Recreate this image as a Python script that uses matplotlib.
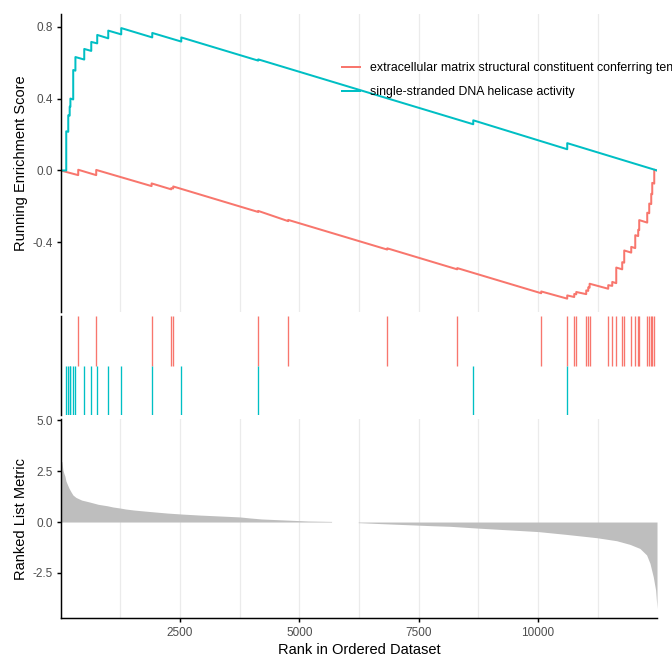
import numpy as np
import matplotlib
matplotlib.use("Agg")
import matplotlib.pyplot as plt

plt.rcParams['font.family'] = ['Liberation Sans', 'DejaVu Sans']
plt.rcParams['axes.unicode_minus'] = False

n_genes = 12495

set_names = ['extracellular matrix structural constituent conferring tensile strength',
             'single-stranded DNA helicase activity']
set_colors = ['#F8766D', '#00BFC4']

# gene set 1 (red) - hit ranks and running ES just before / after each hit
red_hits = [369, 746, 1906, 2317, 2359, 4140, 4768, 6843, 8309, 10069, 10614, 10761, 10803, 11012,
            11054, 11083, 11473, 11557, 11641, 11766, 11808, 11955, 12039, 12101, 12122, 12290,
            12332, 12374, 12395, 12437]
red_es_before = [-0.026, -0.026, -0.087, -0.105, -0.100, -0.231, -0.282, -0.440, -0.550, -0.683,
                 -0.713, -0.704, -0.689, -0.688, -0.670, -0.652, -0.658, -0.642, -0.627, -0.550,
                 -0.513, -0.457, -0.432, -0.365, -0.332, -0.290, -0.238, -0.187, -0.132, -0.073]
red_es_after = [0.004, 0.003, -0.072, -0.098, -0.089, -0.225, -0.275, -0.433, -0.543, -0.673,
                -0.695, -0.687, -0.676, -0.667, -0.650, -0.630, -0.638, -0.620, -0.540, -0.510,
                -0.445, -0.425, -0.360, -0.330, -0.276, -0.235, -0.184, -0.130, -0.069, 0.004]

# gene set 2 (cyan)
cyan_hits = [118, 160, 190, 205, 264, 310, 495, 642, 767, 998, 1270, 1920, 2528, 4140, 8645, 10614]
cyan_es_before = [0.0, 0.215, 0.305, 0.354, 0.395, 0.555, 0.617, 0.665, 0.707, 0.735, 0.757,
                  0.740, 0.717, 0.611, 0.257, 0.118]
cyan_es_after = [0.218, 0.307, 0.355, 0.400, 0.559, 0.631, 0.676, 0.715, 0.754, 0.778, 0.792,
                 0.765, 0.740, 0.618, 0.279, 0.152]

# ranked list metric
pos_ranks = [1, 27, 48, 69, 90, 111, 132, 174, 216, 258, 321, 440, 614, 789, 977, 1096, 1242,
             1362, 1536, 1760, 1997, 2242, 2556, 2933, 3310, 3757, 3965, 4211, 4700, 5188, 5677]
pos_metric = [3.0, 2.97, 2.56, 2.39, 2.26, 2.02, 1.90, 1.67, 1.49, 1.33, 1.21, 1.08, 0.98, 0.87,
              0.80, 0.74, 0.69, 0.64, 0.59, 0.54, 0.49, 0.44, 0.39, 0.34, 0.30, 0.25, 0.20, 0.15,
              0.10, 0.05, 0.03]
neg_ranks = [6235, 6725, 7249, 7773, 8156, 8750, 9344, 10006, 10601, 11230, 11649, 11928, 12137,
             12277, 12347, 12416, 12466, 12495]
neg_metric = [-0.03, -0.08, -0.13, -0.18, -0.21, -0.30, -0.38, -0.47, -0.61, -0.77, -0.92, -1.10,
              -1.30, -1.62, -2.03, -2.69, -3.35, -4.25]

es_ticks = [-0.4, 0.0, 0.4, 0.8]
es_tick_labels = ['-0.4', '0.0', '0.4', '0.8']
metric_ticks = [-2.5, 0.0, 2.5, 5.0]
metric_tick_labels = ['-2.5', '0.0', '2.5', '5.0']
rank_ticks = [2500, 5000, 7500, 10000]


def es_path(hits, before, after):
    xs = [0]
    ys = [0.0]
    for h, b, a in zip(hits, before, after):
        xs += [h, h]
        ys += [b, a]
    xs.append(n_genes)
    ys.append(0.0)
    return xs, ys


fig = plt.figure(figsize=(7, 671 / 96), dpi=96)
ax1 = fig.add_axes([0.0902, 0.5343, 0.8875, 0.4449])
ax2 = fig.add_axes([0.0902, 0.3808, 0.8875, 0.1483])
ax3 = fig.add_axes([0.0902, 0.0785, 0.8875, 0.2970])

tick_col = '#4D4D4D'
for ax in (ax1, ax3):
    for g in np.arange(1250, n_genes, 1250):
        ax.axvline(g, color='#EBEBEB', lw=0.9, zorder=0)

# running enrichment score
for hits, bef, aft, col, name in [(red_hits, red_es_before, red_es_after, set_colors[0], set_names[0]),
                                  (cyan_hits, cyan_es_before, cyan_es_after, set_colors[1], set_names[1])]:
    xs, ys = es_path(hits, bef, aft)
    ax1.plot(xs, ys, color=col, lw=1.5, label=name)

ax1.set_xlim(0, n_genes)
ax1.set_ylim(-0.790, 0.8706)
ax1.set_yticks(es_ticks)
ax1.set_yticklabels(es_tick_labels)
ax1.set_xticks([])
for s in ['top', 'right', 'bottom']:
    ax1.spines[s].set_visible(False)
ax1.set_ylabel('Running Enrichment Score', fontsize=11)
ax1.yaxis.set_label_coords(-0.054, 0.5)
ax1.legend(loc='upper left', bbox_to_anchor=(0.472, 0.838), frameon=False, fontsize=9.3,
           handlelength=1.45, handletextpad=0.8, labelspacing=0.95, borderpad=0, borderaxespad=0)

# hit positions
ax2.vlines(red_hits, 1, 2, color=set_colors[0], lw=1.0)
ax2.vlines(cyan_hits, 0, 1, color=set_colors[1], lw=1.0)
ax2.set_xlim(0, n_genes)
ax2.set_ylim(0, 2)
ax2.set_xticks([])
ax2.set_yticks([])
for s in ['top', 'right', 'bottom']:
    ax2.spines[s].set_visible(False)

# ranked list metric
ax3.fill_between(pos_ranks, 0, pos_metric, color='#BEBEBE', lw=0)
ax3.fill_between(neg_ranks, 0, neg_metric, color='#BEBEBE', lw=0)
ax3.set_xlim(0, n_genes)
ax3.set_ylim(-4.737, 5.066)
ax3.set_yticks(metric_ticks)
ax3.set_yticklabels(metric_tick_labels)
ax3.set_xticks(rank_ticks)
ax3.set_xticklabels([str(t) for t in rank_ticks])
for s in ['top', 'right']:
    ax3.spines[s].set_visible(False)
ax3.set_ylabel('Ranked List Metric', fontsize=11)
ax3.yaxis.set_label_coords(-0.054, 0.5)
ax3.set_xlabel('Rank in Ordered Dataset', fontsize=11)
ax3.xaxis.set_label_coords(0.5, -0.122)

for ax in (ax1, ax2, ax3):
    for s in ax.spines.values():
        s.set_linewidth(1.1)
    ax.tick_params(length=2.75, width=1.1, labelsize=8.8, labelcolor=tick_col, pad=2.8)
ax3.tick_params(axis='x', pad=4)

fig.savefig('out.png', dpi=96)
